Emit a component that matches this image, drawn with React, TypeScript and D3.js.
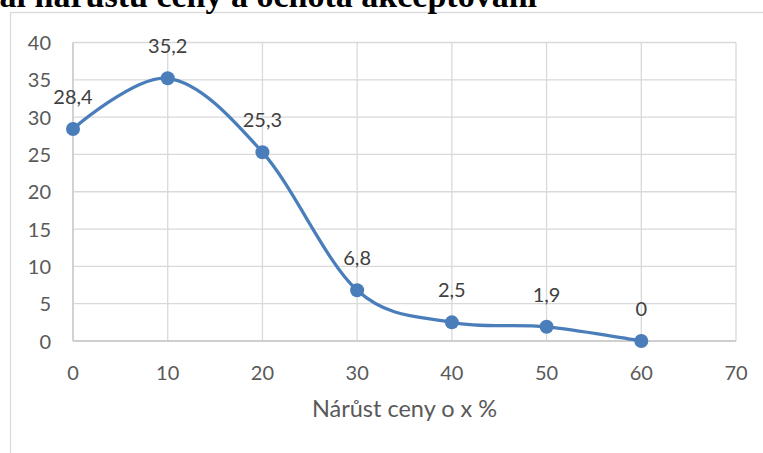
import React from "react";
import * as d3 from "d3";

// data
const increases = [0, 10, 20, 30, 40, 50, 60];
const acceptance = [28.4, 35.2, 25.3, 6.8, 2.5, 1.9, 0];
const xTicks = [0, 10, 20, 30, 40, 50, 60, 70];
const yTicks = [0, 5, 10, 15, 20, 25, 30, 35, 40];
const titleText = "al nárůstu ceny a ochota akceptování";
const xAxisTitle = "Nárůst ceny o x %";

const W = 763;
const H = 453;
const FONT = "Lato, 'Open Sans', sans-serif";

const App = () => {
  const x = d3.scaleLinear().domain([0, 70]).range([73, 736]);
  const y = d3.scaleLinear().domain([0, 40]).range([341, 42.5]);

  const points = increases.map((v, i) => [v, acceptance[i]] as [number, number]);

  const line = d3
    .line<[number, number]>()
    .x((d) => x(d[0]))
    .y((d) => y(d[1]))
    .curve(d3.curveCardinal.tension(0));

  const fmt = (v: number) => String(v).replace(".", ",");

  return (
    <svg
      width={W}
      height={H}
      style={{ position: "absolute", left: 0, top: 0, display: "block", background: "#fff" }}
    >
      {/* chart border */}
      <rect x={10.5} y={12.5} width={800} height={500} fill="#fff" stroke="#d9d9d9" strokeWidth={1.3} />

      {/* title, cut off at the top like in the original */}
      <text
        x={537}
        y={7}
        textAnchor="end"
        fontFamily="'Liberation Serif', 'Times New Roman', serif"
        fontWeight="bold"
        fontSize={34}
        fill="#000"
      >
        {titleText}
      </text>

      {/* grid */}
      <g stroke="#d9d9d9" strokeWidth={1.3}>
        {yTicks.map((t) => (
          <line key={"h" + t} x1={x(0)} x2={x(70)} y1={y(t)} y2={y(t)} />
        ))}
        {xTicks.map((t) => (
          <line key={"v" + t} x1={x(t)} x2={x(t)} y1={y(0)} y2={y(40)} />
        ))}
      </g>
      <g stroke="#c8c8c8" strokeWidth={1.3}>
        <line x1={x(0)} x2={x(70)} y1={y(0)} y2={y(0)} />
        <line x1={x(0)} x2={x(0)} y1={y(0)} y2={y(40)} />
      </g>

      {/* y tick labels */}
      <g fontFamily={FONT} fontSize={20} fill="#595959" textAnchor="end">
        {yTicks.map((t) => (
          <text key={t} x={51} y={y(t) + 7.5}>
            {t}
          </text>
        ))}
      </g>

      {/* x tick labels */}
      <g fontFamily={FONT} fontSize={20} fill="#595959" textAnchor="middle">
        {xTicks.map((t) => (
          <text key={t} x={x(t)} y={380}>
            {t}
          </text>
        ))}
      </g>

      <text x={(x(0) + x(70)) / 2} y={417} fontFamily={FONT} fontSize={23.5} fill="#595959" textAnchor="middle">
        {xAxisTitle}
      </text>

      {/* series */}
      <path d={line(points) || ""} fill="none" stroke="#4a7ebb" strokeWidth={3.3} strokeLinecap="round" />
      {points.map((d, i) => (
        <circle key={i} cx={x(d[0])} cy={y(d[1])} r={7} fill="#4a7ebb" />
      ))}

      {/* data labels */}
      <g fontFamily={FONT} fontSize={20} fill="#404040" textAnchor="middle">
        {points.map((d, i) => (
          <text key={i} x={x(d[0])} y={y(d[1]) - 25}>
            {fmt(d[1])}
          </text>
        ))}
      </g>
    </svg>
  );
};

export default App;
